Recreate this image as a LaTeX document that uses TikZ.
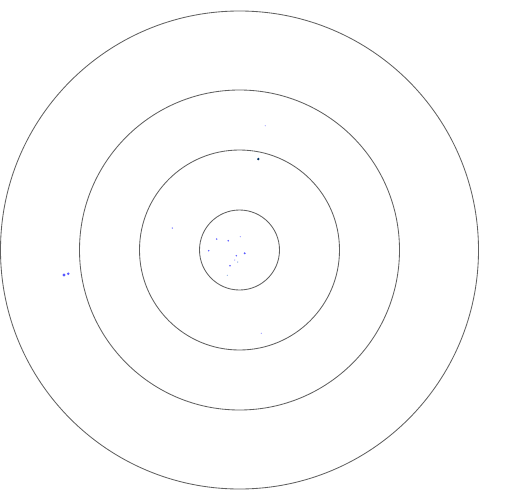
\documentclass[tikz,border=0pt]{standalone}
\begin{document}
\begin{tikzpicture}[x=1pt,y=-1pt,
  ring/.style={draw=black!62,line width=0.85pt},
  dot/.style={fill=blue!65,draw=none},
  faint/.style={fill=blue!35,draw=none},
  cyandot/.style={fill=cyan!50!blue!50,draw=none}]
\useasboundingbox (0,0) rectangle (515,496);
\coordinate (c) at (239.5,250);
\draw[ring] (c) circle (239);
\draw[ring] (c) circle (160);
\draw[ring] (c) circle (100);
\draw[ring] (c) circle (40);
% dots
\fill[dot] (216.7,239) circle (0.8);
\fill[dot] (228.3,240.7) circle (0.9);
\fill[faint] (240.3,236.7) circle (0.7);
\fill[dot] (208.7,250.7) circle (0.8);
\fill[dot] (236.3,255.7) circle (0.8);
\fill[dot] (244.7,253.3) circle (1.1);
\fill[faint] (234.7,260) circle (0.7);
\fill[cyandot] (237.7,262) circle (0.7);
\fill[dot] (230,265.7) circle (0.8);
\fill[cyandot] (227.3,275.3) circle (0.6);
\fill[dot] (64,275) circle (1.6);
\fill[dot] (68.3,273.7) circle (1.4);
\fill[faint] (265.3,125.7) circle (0.6);
\fill[fill=black!55!teal!80!blue] (258.3,159) circle (1.3);
\fill[dot] (172.3,228) circle (0.7);
\fill[faint] (261.3,333.3) circle (0.7);
\end{tikzpicture}
\end{document}
